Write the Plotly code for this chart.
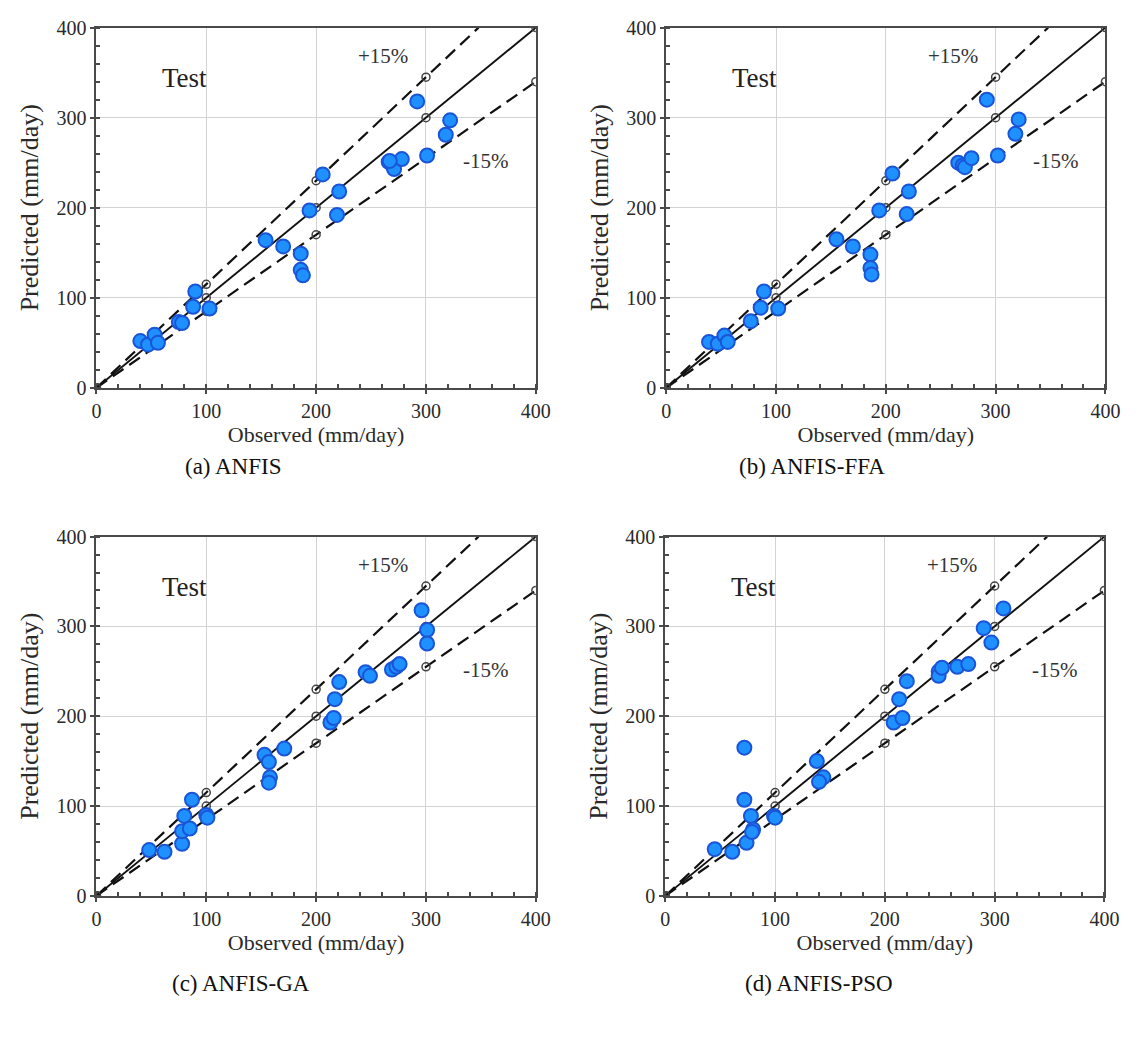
import plotly.graph_objects as go

# Observed / predicted test-set pairs (mm/day) for each model
anfis_obs = [40, 47, 53, 56, 75, 78, 88, 90, 103, 154, 170, 186, 186, 188, 194, 206, 221, 219,
             266, 270, 271, 278, 267, 292, 301, 318, 322]
anfis_pred = [52, 48, 59, 50, 73, 72, 90, 107, 88, 164, 157, 149, 131, 125, 197, 237, 218, 192,
              251, 246, 243, 254, 252, 318, 258, 281, 297]

ffa_obs = [39, 47, 53, 56, 77, 86, 89, 102, 155, 170, 186, 186, 187, 194, 206, 221, 219,
           266, 270, 272, 278, 292, 302, 318, 321]
ffa_pred = [51, 49, 58, 51, 74, 89, 107, 88, 165, 157, 148, 133, 126, 197, 238, 218, 193,
            250, 247, 245, 255, 320, 258, 282, 298]

ga_obs = [48, 62, 78, 78, 80, 85, 87, 100, 101, 153, 157, 158, 157, 171, 213, 216, 217, 221,
          245, 249, 269, 273, 276, 296, 301, 301]
ga_pred = [51, 49, 58, 72, 89, 75, 107, 90, 87, 157, 149, 132, 126, 164, 193, 198, 219, 238,
           249, 245, 252, 255, 258, 318, 296, 281]

pso_obs = [45, 61, 74, 78, 80, 79, 72, 72, 99, 100, 138, 144, 140, 208, 216, 213, 220,
           249, 249, 252, 266, 276, 290, 297, 308]
pso_pred = [52, 49, 59, 89, 74, 71, 107, 165, 89, 87, 150, 132, 127, 193, 198, 219, 239,
            250, 245, 254, 255, 258, 298, 282, 320]

panels = [
    ("(a) ANFIS", anfis_obs, anfis_pred),
    ("(b) ANFIS-FFA", ffa_obs, ffa_pred),
    ("(c) ANFIS-GA", ga_obs, ga_pred),
    ("(d) ANFIS-PSO", pso_obs, pso_pred),
]

# Reference lines: 1:1, +15 % and -15 %
ref_x = [0, 100, 200, 300, 400]
plus_x = [0, 100, 200, 300, 400 / 1.15]
minus_x = [0, 100, 200, 300, 400]
band = 0.15
axis_max = 400

# Panel placement (paper fractions)
x_domains = [[0.0814, 0.4727], [0.5888, 0.9799], [0.0814, 0.4727], [0.5880, 0.9790]]
y_domains = [[0.6298, 0.9837], [0.6298, 0.9837], [0.1308, 0.4837], [0.1308, 0.4837]]
# Caption centres (paper fractions)
caption_x = [0.203, 0.719, 0.210, 0.725]
caption_y = [0.553, 0.553, 0.045, 0.045]

FONT = "Liberation Serif"
INK = "#2a2a2a"

fig = go.Figure()
annotations = []

ref_marker = dict(symbol="circle-open", size=8, color="#444444", line=dict(width=1.5))
dash_line = dict(color="#111111", width=2.2, dash="13px,7px")

for i, (caption, obs, pred) in enumerate(panels):
    k = "" if i == 0 else str(i + 1)
    xa, ya = "x" + k, "y" + k

    # 1:1 line
    fig.add_trace(go.Scatter(
        x=ref_x, y=ref_x, xaxis=xa, yaxis=ya, mode="lines+markers",
        line=dict(color="#111111", width=1.9), marker=ref_marker,
        showlegend=False, hoverinfo="skip"))
    # +15 % line
    fig.add_trace(go.Scatter(
        x=plus_x, y=[v * (1 + band) for v in plus_x], xaxis=xa, yaxis=ya, mode="lines",
        line=dash_line, showlegend=False, hoverinfo="skip"))
    fig.add_trace(go.Scatter(
        x=plus_x[:4], y=[v * (1 + band) for v in plus_x[:4]], xaxis=xa, yaxis=ya,
        mode="markers", marker=ref_marker, showlegend=False, hoverinfo="skip"))
    # -15 % line
    fig.add_trace(go.Scatter(
        x=minus_x, y=[v * (1 - band) for v in minus_x], xaxis=xa, yaxis=ya,
        mode="lines+markers", line=dash_line, marker=ref_marker,
        showlegend=False, hoverinfo="skip"))
    # Test points
    fig.add_trace(go.Scatter(
        x=obs, y=pred, xaxis=xa, yaxis=ya, mode="markers",
        marker=dict(size=14, color="#1E90FF", line=dict(color="#1A55D8", width=2)),
        showlegend=False))

    axis_common = dict(
        range=[0, axis_max], tickvals=[0, 100, 200, 300, 400],
        showgrid=True, gridcolor="#d3d3d3", gridwidth=1,
        zeroline=False, showline=True, linecolor="#4a4a4a", linewidth=2, mirror=True,
        ticks="outside", ticklen=4, tickcolor="#4a4a4a", tickwidth=1.5,
        minor=dict(ticks="inside", dtick=20, ticklen=4, tickcolor="#4a4a4a", tickwidth=1.5,
                   showgrid=False),
        tickfont=dict(family=FONT, size=20, color=INK),
        fixedrange=True,
    )
    fig.layout["xaxis" + k] = dict(
        axis_common, domain=x_domains[i], anchor=ya,
        title=dict(text="Observed (mm/day)", font=dict(family=FONT, size=22, color=INK),
                   standoff=0))
    fig.layout["yaxis" + k] = dict(
        axis_common, domain=y_domains[i], anchor=xa,
        title=dict(text="Predicted (mm/day)", font=dict(family=FONT, size=26, color=INK),
                   standoff=10))

    # In-panel labels
    annotations += [
        dict(x=80, y=344, xref=xa, yref=ya, text="Test", showarrow=False,
             font=dict(family=FONT, size=27, color="#222222")),
        dict(x=261, y=368, xref=xa, yref=ya, text="+15%", showarrow=False,
             font=dict(family=FONT, size=21, color="#333333")),
        dict(x=355, y=252, xref=xa, yref=ya, text="-15%", showarrow=False,
             font=dict(family=FONT, size=21, color="#333333")),
    ]
    # Panel caption
    annotations.append(dict(x=caption_x[i], y=caption_y[i], xref="paper", yref="paper",
                            text=caption, showarrow=False, xanchor="center",
                            yanchor="middle",
                            font=dict(family=FONT, size=23, color="#111111")))

fig.update_layout(
    width=1143, height=1040,
    margin=dict(l=0, r=0, t=0, b=0),
    paper_bgcolor="white", plot_bgcolor="white",
    annotations=annotations,
)

fig.write_html("out.html")
